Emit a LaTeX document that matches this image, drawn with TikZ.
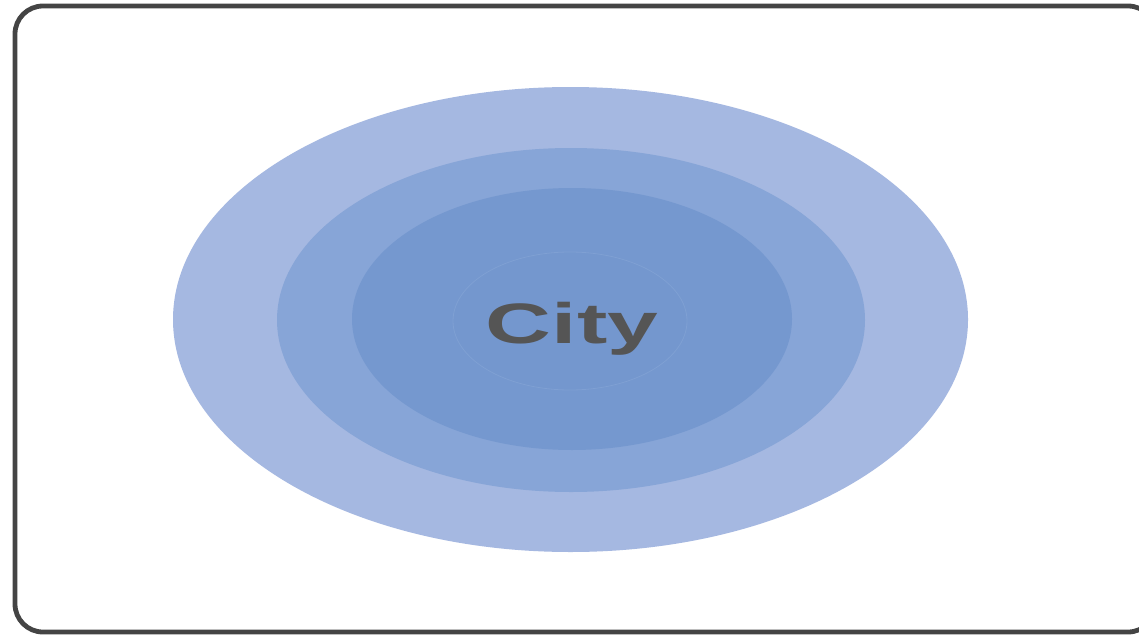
\documentclass[tikz,border=0pt]{standalone}
\usepackage{fontspec}
\usepackage{graphicx}
\setmainfont{Liberation Sans}
\definecolor{ringA}{HTML}{A5B8E1}
\definecolor{ringB}{HTML}{87A5D7}
\definecolor{ringC}{HTML}{7598CF}
\definecolor{ringD}{HTML}{7497CE}
\definecolor{ringEdge}{HTML}{7FA0D3}
\definecolor{frame}{HTML}{444444}
\definecolor{label}{HTML}{555555}
\tikzset{
  ring/.style={draw=none},
  framebox/.style={draw=frame, line width=4.8pt, rounded corners=28pt},
}
\begin{document}
\begin{tikzpicture}[x=1pt,y=-1pt]
\useasboundingbox (0,0) rectangle (1139,634);
\clip (0,0) rectangle (1139,634);
\fill[white] (0,0) rectangle (1139,634);
\draw[framebox] (15,6) rectangle (1156,632);
\fill[ringA, ring] (570.5,319.5) ellipse [x radius=397.5, y radius=232.5];
\fill[ringB, ring] (571,320) ellipse [x radius=294, y radius=172];
\fill[ringC, ring] (572,319) ellipse [x radius=220, y radius=131];
\filldraw[fill=ringD, draw=ringEdge, line width=0.8pt] (570,321) ellipse [x radius=117, y radius=69];
\node[anchor=base, text=label, inner sep=0pt, font=\bfseries\fontsize{57}{60}\selectfont] (city) at (572,343) {\scalebox{1.6}[1]{City}};
\end{tikzpicture}
\end{document}
